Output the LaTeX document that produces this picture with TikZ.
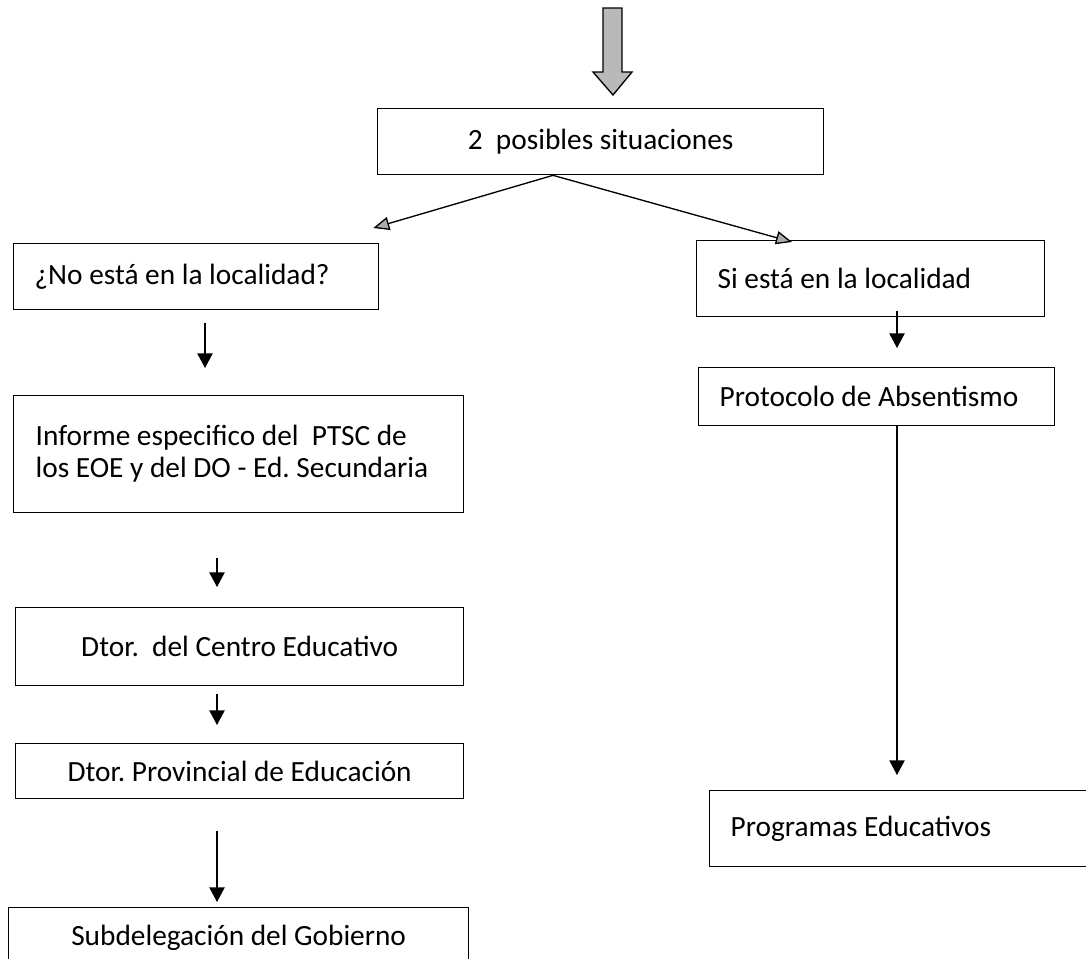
\documentclass[tikz,border=0pt]{standalone}
\usepackage{fontspec}
\setmainfont{Carlito}
\usetikzlibrary{arrows.meta, calc}
\frenchspacing

\tikzset{
  box/.style={draw, line width=1pt, anchor=north west, inner ysep=0pt,
    font=\fontsize{22}{24}\selectfont},
  lbox/.style={box, align=flush left, inner xsep=15.75pt},
  cbox/.style={box, align=center, inner xsep=0pt},
  flow/.style={line width=1pt, -{Triangle[width=11.5pt, length=11pt]}},
  fork/.style={line width=1pt, -{Triangle[open, width=10pt, length=12pt, fill=gray!65]}},
  entry/.style={draw, line width=1pt, fill=gray!55}
}

\begin{document}
\begin{tikzpicture}[x=0.75pt, y=-0.75pt]
  \useasboundingbox (0,0) rectangle (1086,958);

  % boxes
  \node[cbox, minimum width=334.5pt, minimum height=49.5pt] (sit) at (377,108) {2\ \ posibles situaciones};
  \node[lbox, text width=242.25pt, minimum height=49.5pt] (noesta) at (13,243) {¿No está en la localidad?};
  \node[lbox, text width=229.5pt, minimum height=57pt] (si) at (696,240) {Si está en la localidad};
  \node[lbox, text width=235.5pt, minimum height=43.5pt] (proto) at (698,367) {Protocolo de Absentismo};
  \node[lbox, text width=251.25pt, minimum height=57pt] (prog) at (709,790) {Programas Educativos};
  \node[lbox, inner xsep=16.5pt, text width=304.5pt, minimum height=87.75pt] (informe) at (13,395)
    {Informe especifico del\ \ PTSC de\\los EOE y del DO - Ed. Secundaria};
  \node[cbox, minimum width=336pt, minimum height=58.5pt] (centro) at (15,607) {Dtor.\ \ del Centro Educativo};
  \node[cbox, minimum width=336pt, minimum height=41.25pt] (prov) at (15,743) {Dtor. Provincial de Educación};
  \node[cbox, minimum width=345pt, minimum height=45pt] (subdel) at (8,907) {Subdelegación del Gobierno};

  % incoming arrow
  \draw[entry] (603,8) -- (622,8) -- (622,72) -- (632,72) -- (613,95)
    -- (593,72) -- (603,72) -- cycle;

  % connectors
  \draw[fork] ($(sit.south west)+(176,0)$) -- ($(noesta.north east)+(-6,-15)$);
  \draw[fork] ($(sit.south west)+(176,0)$) -- ($(si.north west)+(96,2)$);
  \draw[flow] ($(noesta.south west)+(192,13)$) -- ($(informe.north west)+(192,-27)$);
  \draw[flow] ($(informe.south west)+(204,45)$) -- ($(centro.north west)+(202,-20)$);
  \draw[flow] ($(centro.south west)+(202,8)$) -- ($(prov.north west)+(202,-18)$);
  \draw[flow] ($(prov.south west)+(202,32)$) -- ($(subdel.north west)+(209,-5)$);
  \draw[flow] ($(si.south west)+(201,-6)$) -- ($(proto.north west)+(199,-19)$);
  \draw[flow] ($(proto.south west)+(199,0)$) -- ($(prog.north west)+(188,-15)$);
\end{tikzpicture}
\end{document}
